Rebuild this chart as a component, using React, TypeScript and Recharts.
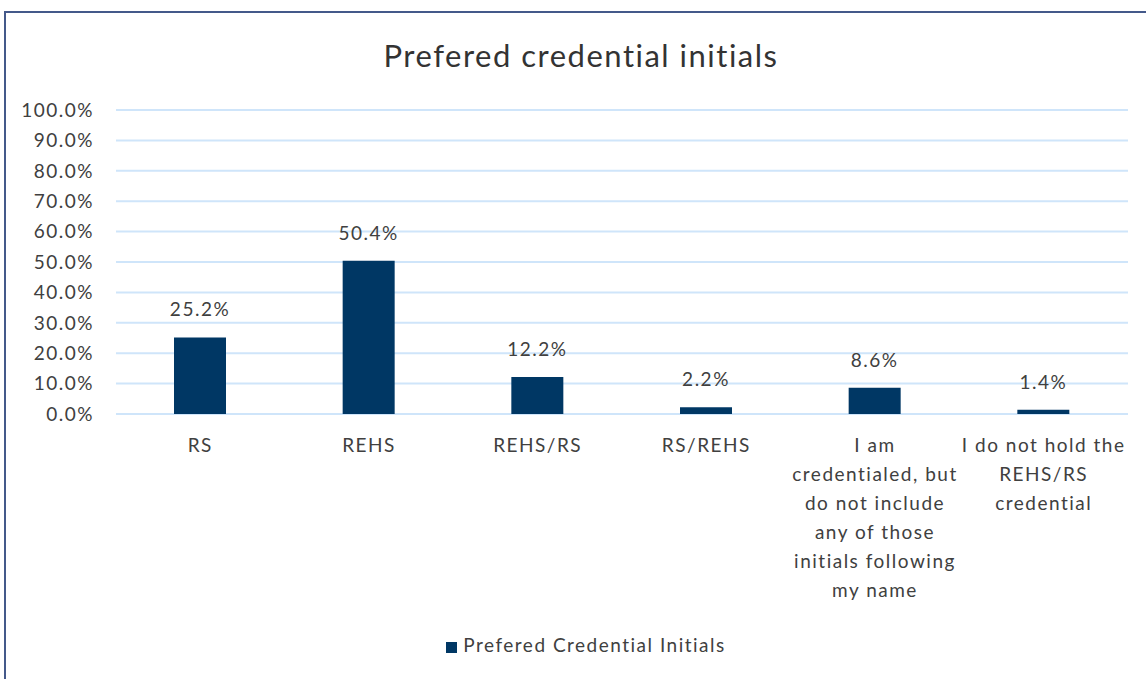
import { BarChart, Bar, XAxis, YAxis, CartesianGrid, Legend, LabelList } from 'recharts';

const categories = [
  'RS',
  'REHS',
  'REHS/RS',
  'RS/REHS',
  'I am credentialed, but do not include any of those initials following my name',
  'I do not hold the REHS/RS credential',
];
// how each category label wraps under the axis
const tickLines = [
  ['RS'],
  ['REHS'],
  ['REHS/RS'],
  ['RS/REHS'],
  ['I am', 'credentialed, but', 'do not include', 'any of those', 'initials following', 'my name'],
  ['I do not hold the', 'REHS/RS', 'credential'],
];
const shares = [25.2, 50.4, 12.2, 2.2, 8.6, 1.4];
const yTicks = [0, 10, 20, 30, 40, 50, 60, 70, 80, 90, 100];

const seriesName = 'Prefered Credential Initials';
const data = categories.map((c, i) => ({ name: c, value: shares[i] }));

const FONT = 'Lato, "Open Sans", sans-serif';
const TEXT = '#404040';
const BAR = '#003764';
const SPACING = '1.5px';

function CategoryTick(props: any) {
  const { x, y, payload } = props;
  const idx = categories.indexOf(payload.value);
  const lines = idx >= 0 ? tickLines[idx] : [payload.value];
  return (
    <text
      x={x}
      y={y + 30}
      textAnchor="middle"
      fill={TEXT}
      fontSize={19}
      fontFamily={FONT}
      style={{ letterSpacing: SPACING }}
    >
      {lines.map((l, i) => (
        <tspan key={i} x={x} dy={i === 0 ? 0 : 29}>
          {l}
        </tspan>
      ))}
    </text>
  );
}

export default function App() {
  return (
    <div
      style={{
        position: 'absolute',
        left: 0,
        top: 0,
        width: 1146,
        height: 679,
        overflow: 'hidden',
        background: '#fff',
        fontFamily: FONT,
      }}
    >
      <div
        style={{
          position: 'absolute',
          left: 4,
          top: 11,
          width: 1200,
          height: 720,
          border: '2px solid #44598a',
        }}
      />
      <div
        style={{
          position: 'absolute',
          left: 0,
          top: 35,
          width: 1162,
          textAlign: 'center',
          fontSize: 31,
          letterSpacing: SPACING,
          color: '#333',
          lineHeight: '40px',
        }}
      >
        Prefered credential initials
      </div>
      <BarChart
        width={1146}
        height={679}
        data={data}
        margin={{ top: 110, right: 18, left: 0, bottom: 22 }}
        style={{ position: 'absolute', left: 0, top: 0 }}
      >
        <CartesianGrid vertical={false} stroke="#cfe5fa" strokeWidth={2} />
        <XAxis
          dataKey="name"
          axisLine={false}
          tickLine={false}
          interval={0}
          height={220}
          tick={<CategoryTick />}
        />
        <YAxis
          domain={[0, 100]}
          ticks={yTicks}
          width={116}
          axisLine={false}
          tickLine={false}
          tickMargin={16}
          interval={0}
          tick={{ fill: TEXT, fontSize: 19, fontFamily: FONT, style: { letterSpacing: SPACING } }}
          tickFormatter={(v: number) => `${v.toFixed(1)}%`}
        />
        <Legend
          verticalAlign="bottom"
          iconType="square"
          iconSize={11}
          wrapperStyle={{ fontSize: 19, fontFamily: FONT, letterSpacing: SPACING, left: 27, top: 633 }}
          formatter={(v: string) => <span style={{ color: TEXT, marginLeft: 2 }}>{v}</span>}
        />
        <Bar dataKey="value" name={seriesName} fill={BAR} barSize={52} isAnimationActive={false}>
          <LabelList
            dataKey="value"
            position="top"
            offset={21}
            fill={TEXT}
            fontSize={19}
            fontFamily={FONT}
            style={{ letterSpacing: SPACING }}
            formatter={(v: any) => `${Number(v).toFixed(1)}%`}
          />
        </Bar>
      </BarChart>
    </div>
  );
}
